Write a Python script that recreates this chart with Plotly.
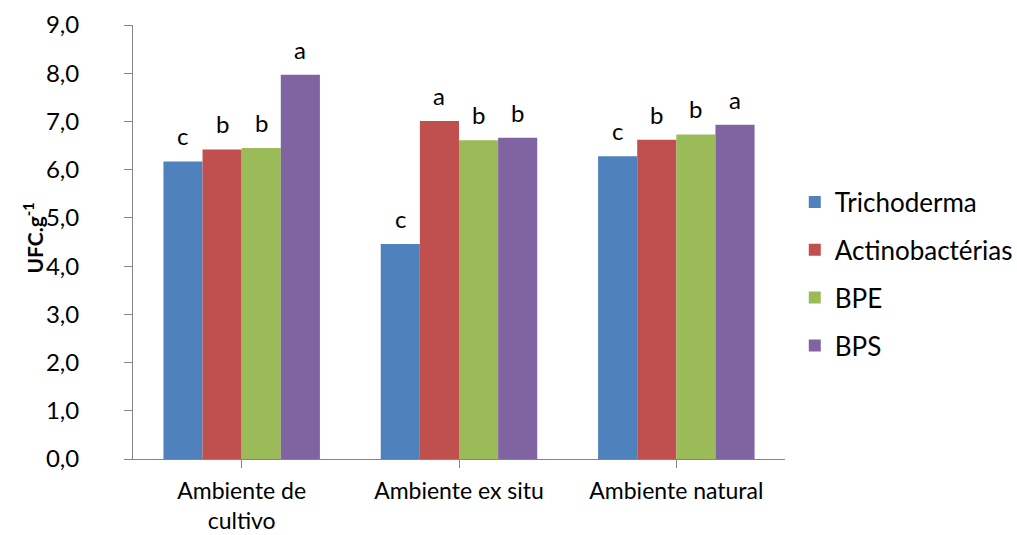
import plotly.graph_objects as go

categories = ["Ambiente de<br>cultivo", "Ambiente ex situ", "Ambiente natural"]
series_names = ["Trichoderma", "Actinobactérias", "BPE", "BPS"]
trichoderma = [6.17, 4.46, 6.28]
actinobacterias = [6.42, 7.01, 6.62]
bpe = [6.45, 6.61, 6.73]
bps = [7.97, 6.66, 6.93]
letters_trichoderma = ["c", "c", "c"]
letters_actino = ["b", "a", "b"]
letters_bpe = ["b", "b", "b"]
letters_bps = ["a", "b", "a"]
y_ticks = [0, 1, 2, 3, 4, 5, 6, 7, 8, 9]
y_title = "<b>UFC.g<sup>-1</sup></b>"

values = [trichoderma, actinobacterias, bpe, bps]
letters = [letters_trichoderma, letters_actino, letters_bpe, letters_bps]
colors = ["#4F81BD", "#C0504D", "#9BBB59", "#8064A2"]

FONT = "Lato"
bargap = 0.28

fig = go.Figure()
for i, (name, vals) in enumerate(zip(series_names, values)):
    fig.add_trace(go.Bar(
        x=list(range(len(categories))), y=vals, name=name,
        marker=dict(color=colors[i], line=dict(width=0)),
        legendgroup=name,
    ))

n = len(series_names)
bw = (1 - bargap) / n
annotations = []
for i in range(n):
    off = -(1 - bargap) / 2 + bw * (i + 0.5)
    for j in range(len(categories)):
        annotations.append(dict(
            x=j + off, y=values[i][j], xref="x", yref="y",
            text=letters[i][j], showarrow=False, yanchor="bottom",
            yshift=9, font=dict(family=FONT, size=24, color="#000000"),
        ))

# y-axis title placed as rotated annotation
annotations.append(dict(
    x=-0.1535, y=0.51, xref="paper", yref="paper", text=y_title,
    showarrow=False, textangle=-90, xanchor="center", yanchor="middle",
    font=dict(family=FONT, size=21, color="#000000"),
))

fig.update_layout(
    width=1017, height=535,
    margin=dict(l=133, r=232, t=25, b=76, autoexpand=False),
    paper_bgcolor="white", plot_bgcolor="white",
    barmode="group", bargap=bargap, bargroupgap=0,
    separators=",.",
    font=dict(family=FONT, size=24, color="#000000"),
    annotations=annotations,
    showlegend=True,
    legend=dict(x=1.015, y=0.426, xanchor="left", yanchor="middle",
                font=dict(family=FONT, size=26), tracegroupgap=11,
                itemwidth=30, bgcolor="rgba(0,0,0,0)"),
    xaxis=dict(
        tickmode="array", tickvals=list(range(len(categories))), ticktext=categories,
        range=[-0.5, len(categories) - 0.5],
        showline=True, linecolor="#868686", linewidth=1,
        ticks="outside", ticklen=8, tickcolor="#868686",
        showgrid=False, zeroline=False, automargin=False,
        tickfont=dict(family=FONT, size=23),
        ticklabelstandoff=3,
    ),
    yaxis=dict(
        range=[0, 9], tickvals=y_ticks, tickformat=".1f",
        showline=True, linecolor="#868686", linewidth=1,
        ticks="outside", ticklen=8, tickcolor="#868686",
        showgrid=False, zeroline=False, automargin=False,
        tickfont=dict(family=FONT, size=24),
        ticklabelstandoff=40,
    ),
)

fig.update_xaxes(tickson="boundaries")

fig.write_html(
    "out.html",
    config={"displayModeBar": False},
    post_script="document.body.style.margin='0';document.body.style.overflow='hidden';",
)
